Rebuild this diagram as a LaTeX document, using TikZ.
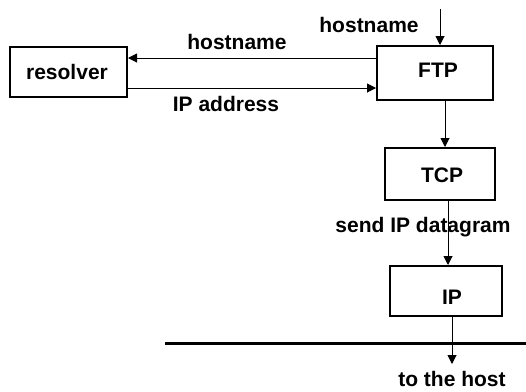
\documentclass[tikz,border=0pt]{standalone}
\usepackage{fontspec}
\setmainfont{Liberation Sans}
\usetikzlibrary{arrows.meta}
\begin{document}
\begin{tikzpicture}[x=1pt,y=-1pt,
  box/.style={draw,line width=2pt,inner sep=0pt},
  lbl/.style={font=\fontsize{21}{23}\selectfont\bfseries,inner sep=0pt},
  conn/.style={line width=1pt,-{Triangle[length=9pt,width=9pt]}}]
\useasboundingbox (0,0) rectangle (526,391);
\node[box,minimum width=117pt,minimum height=50pt] (res) at (68.5,72) {};
\node[lbl] at (67,72) {resolver};
\node[box,minimum width=116pt,minimum height=54pt] (ftp) at (435,73) {};
\node[lbl] at (438,70) {FTP};
\node[box,minimum width=110pt,minimum height=52pt] (tcp) at (440,174) {};
\node[lbl] at (442,175) {TCP};
\node[box,minimum width=112pt,minimum height=50pt] (ip) at (446,291) {};
\node[lbl] at (452,297) {IP};
\coordinate (top) at (440,9);
\coordinate (bot) at (452,364);
\coordinate (lineL) at (165,343);
\coordinate (lineR) at (526,343);
\draw[conn] (top) -- (ftp.north -| top);
\draw[conn] (ftp.west |- 0,58) -- (res.east |- 0,58);
\draw[conn] (res.east |- 0,88) -- (ftp.west |- 0,88);
\draw[conn] (ftp.south -| 445,0) -- (tcp.north -| 445,0);
\draw[conn] (tcp.south -| 448,0) -- (ip.north -| 448,0);
\draw[conn] (ip.south -| 452,0) -- (bot);
\draw[line width=3pt] (lineL) -- (lineR);
\node[lbl] (l1) at (369,25) {hostname};
\node[lbl] (l2) at (237,42) {hostname};
\node[lbl] (l3) at (226,104) {IP address};
\node[lbl] (l4) at (423,227) {send IP datagram};
\node[lbl] (l5) at (452,379) {to the host};
\end{tikzpicture}
\end{document}
